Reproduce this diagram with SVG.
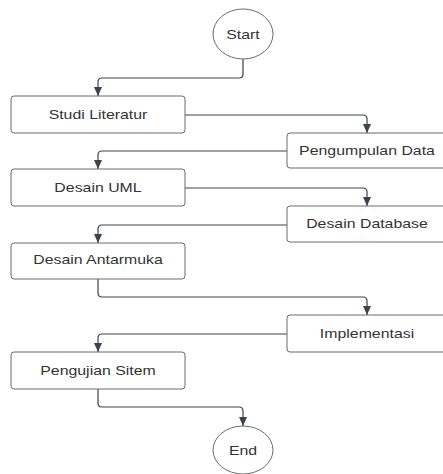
<svg xmlns="http://www.w3.org/2000/svg" width="443" height="474" viewBox="0 0 443 474">
  <style>
    .box { fill: #ffffff; stroke: #6b6b6b; stroke-width: 1; }
    .conn { fill: none; stroke: #3d424b; stroke-width: 1.2; }
    .lbl { font-family: "Liberation Sans", Arial, sans-serif; font-size: 13px; fill: #333333; text-anchor: middle; }
  </style>
  <defs>
    <marker id="arrow" markerUnits="userSpaceOnUse" markerWidth="9" markerHeight="8" refX="9" refY="4" orient="auto">
      <path d="M0,0 L9,4 L0,8 z" fill="#3d424b"/>
    </marker>
  </defs>
  <rect width="443" height="474" fill="#ffffff"/>

  <g id="connectors">
    <path class="conn" marker-end="url(#arrow)" d="M243,59 V74 Q243,78 239,78 H102 Q98,78 98,82 V96"/>
    <path class="conn" marker-end="url(#arrow)" d="M185,115 H363 Q367,115 367,119 V133"/>
    <path class="conn" marker-end="url(#arrow)" d="M287,151 H102 Q98,151 98,155 V169"/>
    <path class="conn" marker-end="url(#arrow)" d="M185,188 H363 Q367,188 367,192 V206"/>
    <path class="conn" marker-end="url(#arrow)" d="M287,225 H102 Q98,225 98,229 V243"/>
    <path class="conn" marker-end="url(#arrow)" d="M98,279 V293 Q98,297 102,297 H363 Q367,297 367,301 V315"/>
    <path class="conn" marker-end="url(#arrow)" d="M287,334 H102 Q98,334 98,338 V352"/>
    <path class="conn" marker-end="url(#arrow)" d="M98,389 V403 Q98,407 102,407 H239 Q243,407 243,411 V426"/>
  </g>

  <g id="start">
    <ellipse class="box" cx="243" cy="34" rx="30" ry="25"/>
    <text class="lbl" transform="translate(243,39) scale(1.22,1)">Start</text>
  </g>
  <g id="studi-literatur">
    <rect class="box" x="11" y="96" width="174" height="37" rx="3"/>
    <text class="lbl" transform="translate(98,119) scale(1.22,1)">Studi Literatur</text>
  </g>
  <g id="pengumpulan-data">
    <rect class="box" x="287" y="133" width="170" height="35" rx="3"/>
    <text class="lbl" transform="translate(367,155) scale(1.22,1)">Pengumpulan Data</text>
  </g>
  <g id="desain-uml">
    <rect class="box" x="11" y="169" width="174" height="37" rx="3"/>
    <text class="lbl" transform="translate(98,192) scale(1.22,1)">Desain UML</text>
  </g>
  <g id="desain-database">
    <rect class="box" x="287" y="206" width="170" height="36" rx="3"/>
    <text class="lbl" transform="translate(367,228) scale(1.22,1)">Desain Database</text>
  </g>
  <g id="desain-antarmuka">
    <rect class="box" x="11" y="243" width="174" height="36" rx="3"/>
    <text class="lbl" transform="translate(98,264) scale(1.22,1)">Desain Antarmuka</text>
  </g>
  <g id="implementasi">
    <rect class="box" x="287" y="315" width="170" height="37" rx="3"/>
    <text class="lbl" transform="translate(367,338) scale(1.22,1)">Implementasi</text>
  </g>
  <g id="pengujian-sitem">
    <rect class="box" x="11" y="352" width="174" height="37" rx="3"/>
    <text class="lbl" transform="translate(98,375) scale(1.22,1)">Pengujian Sitem</text>
  </g>
  <g id="end">
    <ellipse class="box" cx="243" cy="450" rx="30" ry="24"/>
    <text class="lbl" transform="translate(243,455) scale(1.22,1)">End</text>
  </g>
</svg>
